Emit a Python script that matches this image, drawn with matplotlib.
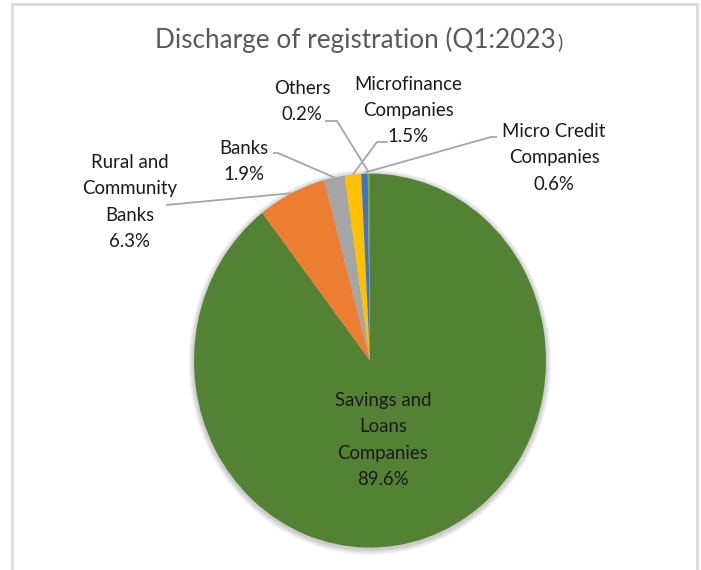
import matplotlib
matplotlib.use("Agg")
import matplotlib.pyplot as plt
from matplotlib.patches import Circle, Rectangle
import numpy as np

# Share of discharges of registration by institution type, Q1 2023
categories = [
    "Savings and\nLoans\nCompanies",
    "Rural and\nCommunity\nBanks",
    "Banks",
    "Microfinance\nCompanies",
    "Micro Credit\nCompanies",
    "Others",
]
shares = [89.6, 6.3, 1.9, 1.5, 0.6, 0.2]
colors = ["#548235", "#ED7D31", "#A5A5A5", "#FFC000", "#4472C4", "#70AD47"]

W, H = 701, 570
FONT = ["Lato", "DejaVu Sans"]
TEXT_COLOR = "#1A1A1A"
LINE_COLOR = "#A6A6A6"
SY = 187 / 176  # the pie is drawn slightly taller than wide

fig = plt.figure(figsize=(W / 100, H / 100), dpi=100)
ax = fig.add_axes([0, 0, 1, 1])


def Y(y):
    """Convert a top-down pixel row into the axes' bottom-up y value."""
    return (H - y) / SY


cx, cy, r = 370, Y(360.6), 176

# soft shadow behind the pie
for i in range(1, 7):
    ax.add_patch(Circle((cx, cy - 1.5), r + i * 0.9, color="black",
                        alpha=0.035, lw=0, zorder=0))

wedges, _ = ax.pie(shares, colors=colors, startangle=90, counterclock=False,
                   center=(cx, cy), radius=r,
                   wedgeprops=dict(linewidth=0, zorder=2))

ax.set_xlim(0, W)
ax.set_ylim(0, H / SY)
ax.set_aspect("auto")
ax.axis("off")

# chart frame
ax.add_patch(Rectangle((12, -10), 685, Y(4) + 10, fill=False,
                       edgecolor="#D9D9D9", lw=2, zorder=5))


def edge_point(w, extra=2.0):
    th = np.deg2rad((w.theta1 + w.theta2) / 2)
    return cx + (r + extra) * np.cos(th), cy + (r + extra) * np.sin(th)


# label centres (x, top-down y) and leader-line start points
label_pos = [
    (383, 440),
    (130, 202),
    (244, 161.5),
    (408, 110.5),
    (554, 158),
    (302, 101.5),
]
leader_start = [
    None,
    [(166, 205)],
    [(273, 153), (278, 153)],
    [(388, 142), (377, 142)],
    [(497, 137), (491, 137)],
    [(325, 121), (337, 121)],
]

for name, val, (lx, ly), w, pts in zip(categories, shares, label_pos,
                                       wedges, leader_start):
    ax.text(lx, Y(ly), f"{name}\n{val:.1f}%", ha="center", va="center",
            fontsize=13.4, family=FONT, color=TEXT_COLOR, linespacing=1.65,
            zorder=6)
    if pts:
        ex, ey = edge_point(w, extra=0.0 if val > 1 else 1.0)
        xs = [p[0] for p in pts] + [ex]
        ys = [Y(p[1]) for p in pts] + [ey]
        ax.plot(xs, ys, color=LINE_COLOR, lw=1.3, zorder=4,
                solid_capstyle="butt")

# title, with a slightly smaller closing parenthesis
title = ax.text(155, Y(40), "Discharge of registration (Q1:2023", ha="left",
                va="center", fontsize=18.8, family=FONT, color="#595959",
                zorder=6)
fig.canvas.draw()
bb = title.get_window_extent()
ax.text(bb.x1 + 1, Y(42), ")", ha="left", va="center", fontsize=14,
        family=FONT, color="#595959", zorder=6)

fig.savefig("out.png", dpi=100, facecolor="white")
